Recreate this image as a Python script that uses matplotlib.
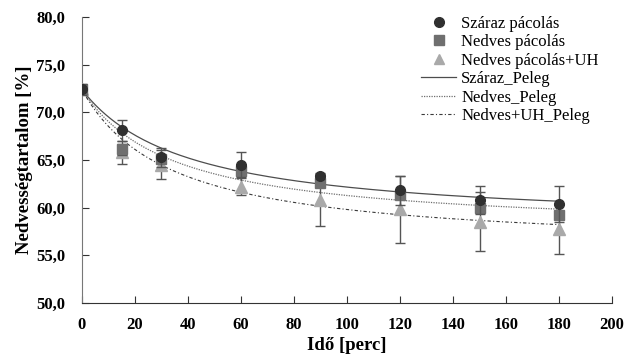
import numpy as np
import matplotlib
matplotlib.use("Agg")
import matplotlib.pyplot as plt
from matplotlib.lines import Line2D
from matplotlib.ticker import FuncFormatter

plt.rcParams['font.family'] = ['Liberation Serif', 'DejaVu Serif']

# ---------------- data ----------------
ido = [0, 15, 30, 60, 90, 120, 150, 180]

szaraz = [72.4, 68.1, 65.3, 64.5, 63.3, 61.8, 60.8, 60.4]
nedves = [72.4, 66.1, 65.1, 63.8, 62.6, 61.3, 60.0, 59.2]
nedves_uh = [72.4, 65.8, 64.5, 62.2, 60.8, 59.8, 58.5, 57.7]

szaraz_err = [0.6, 1.1, 1.0, 1.3, 0.3, 1.5, 1.5, 1.9]
nedves_err = [0.5, 0.6, 0.4, 0.4, 0.4, 0.3, 0.4, 0.4]
nedves_uh_err = [0.5, 1.2, 1.5, 0.9, 2.7, 3.5, 3.1, 2.6]

labels_pont = ['Száraz pácolás', 'Nedves pácolás', 'Nedves pácolás+UH']
labels_model = ['Száraz_Peleg', 'Nedves_Peleg', 'Nedves+UH_Peleg']

# styles
c_sz, c_ne, c_uh = '#303030', '#6f6f6f', '#a9a9a9'
ls_sz, ls_ne, ls_uh = '-', (0, (1, 1)), (0, (3, 2, 1, 2))
lc_sz, lc_ne, lc_uh = '#4d4d4d', '#6e6e6e', '#3a3a3a'


# ---------------- Peleg model fit: t/(M0-M) = k1 + k2*t ----------------
def peleg_fit(t, m):
    t = np.array(t[1:], float)
    m0 = m[0]
    y = t / (m0 - np.array(m[1:], float))
    k2, k1 = np.polyfit(t, y, 1)
    return m0, k1, k2


t_fine = np.linspace(0, 180, 200)


def peleg_curve(params):
    m0, k1, k2 = params
    return m0 - t_fine / (k1 + k2 * t_fine)


fig = plt.figure(figsize=(6.39, 3.61), dpi=100)
ax = fig.add_axes([0.128, 0.161, 0.830, 0.792])

# model lines
ax.plot(t_fine, peleg_curve(peleg_fit(ido, szaraz)), color=lc_sz, lw=0.9, linestyle=ls_sz)
ax.plot(t_fine, peleg_curve(peleg_fit(ido, nedves)), color=lc_ne, lw=0.9, linestyle=ls_ne)
ax.plot(t_fine, peleg_curve(peleg_fit(ido, nedves_uh)), color=lc_uh, lw=0.8, linestyle=ls_uh)

# measured points with error bars
ax.errorbar(ido, nedves_uh, yerr=nedves_uh_err, fmt='^', color=c_uh, ms=8,
            ecolor='#555555', elinewidth=1, capsize=3.5, capthick=1, zorder=3)
ax.errorbar(ido, nedves, yerr=nedves_err, fmt='s', color=c_ne, ms=7,
            ecolor='#555555', elinewidth=1, capsize=3.5, capthick=1, zorder=4)
ax.errorbar(ido, szaraz, yerr=szaraz_err, fmt='o', color=c_sz, ms=7,
            ecolor='#555555', elinewidth=1, capsize=3.5, capthick=1, zorder=5)

ax.set_xlim(0, 200)
ax.set_ylim(50, 80)
ax.set_xticks(range(0, 201, 20))
ax.set_yticks(range(50, 81, 5))
ax.yaxis.set_major_formatter(FuncFormatter(lambda v, p: f"{v:.1f}".replace('.', ',')))

for s in ['top', 'right']:
    ax.spines[s].set_visible(False)
ax.spines['left'].set_color('#777777')
ax.spines['bottom'].set_color('#333333')
ax.tick_params(direction='in', length=5, colors='#333333', labelsize=12)
ax.tick_params(axis='x', pad=10)
ax.tick_params(axis='y', pad=12)
for lab in ax.get_xticklabels() + ax.get_yticklabels():
    lab.set_fontweight('bold')
    lab.set_color('black')

ax.set_xlabel('Idő [perc]', fontsize=13.5, fontweight='bold', labelpad=3)
ax.set_ylabel('Nedvességtartalom [%]', fontsize=13.5, fontweight='bold', labelpad=2)

handles = [
    Line2D([], [], marker='o', color=c_sz, ls='none', ms=7),
    Line2D([], [], marker='s', color=c_ne, ls='none', ms=6.5),
    Line2D([], [], marker='^', color=c_uh, ls='none', ms=7.5),
    Line2D([], [], color=lc_sz, lw=0.9, linestyle=ls_sz),
    Line2D([], [], color=lc_ne, lw=0.9, linestyle=ls_ne),
    Line2D([], [], color=lc_uh, lw=0.8, linestyle=ls_uh),
]
ax.legend(handles, labels_pont + labels_model,
          loc='upper left', bbox_to_anchor=(0.64, 1.005), frameon=False,
          borderpad=0, borderaxespad=0,
          fontsize=12, handlelength=2.1, handletextpad=0.3, labelspacing=0.15)

fig.savefig('out.png', dpi=100)
